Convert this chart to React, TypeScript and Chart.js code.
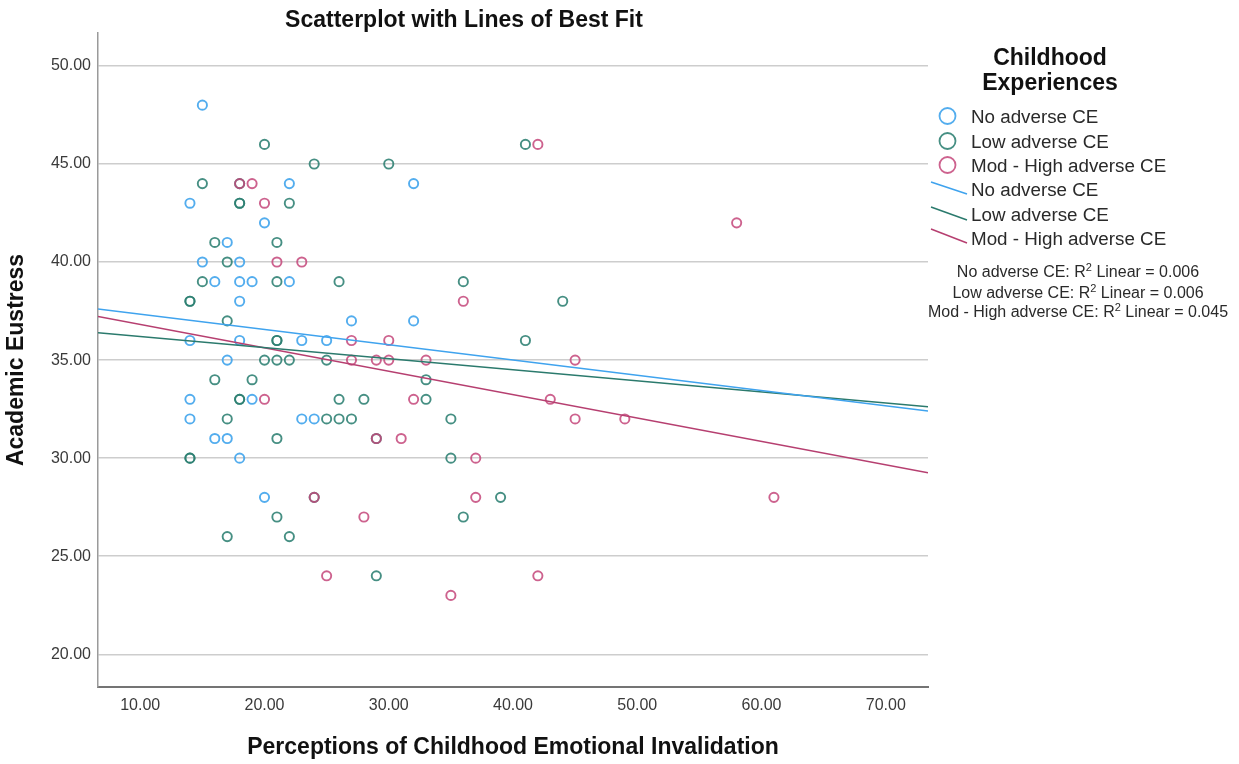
import React, { useEffect, useRef } from 'react';
import { Chart, registerables } from 'chart.js';

Chart.register(...registerables);

// ---------- data ----------
const seriesNames = ['No adverse CE', 'Low adverse CE', 'Mod - High adverse CE'];

const noAdverseX = [15, 14, 22, 32, 20, 17, 15, 18, 16, 18, 19, 22, 18, 27, 32, 14, 18, 23, 25, 17, 14, 19, 14, 23, 24, 16, 17, 18, 20];
const noAdverseY = [48, 43, 44, 44, 42, 41, 40, 40, 39, 39, 39, 39, 38, 37, 37, 36, 36, 36, 36, 35, 33, 33, 32, 32, 32, 31, 31, 30, 28];

const lowAdverseX = [20, 41, 24, 30, 15, 18, 18, 18, 22, 16, 21, 17, 15, 21, 26, 36, 14, 14, 44, 17, 21, 21, 41, 20, 21, 22, 25, 16, 19, 33, 18, 18, 26, 28, 33, 17, 25, 26, 27, 35, 21, 29, 14, 14, 35, 24, 39, 21, 36, 17, 22, 29];
const lowAdverseY = [46, 46, 45, 45, 44, 44, 43, 43, 43, 41, 41, 40, 39, 39, 39, 39, 38, 38, 38, 37, 36, 36, 36, 35, 35, 35, 35, 34, 34, 34, 33, 33, 33, 33, 33, 32, 32, 32, 32, 32, 31, 31, 30, 30, 30, 28, 28, 27, 27, 26, 26, 24];

const modHighX = [42, 18, 19, 20, 58, 21, 23, 36, 27, 30, 27, 29, 30, 33, 45, 20, 32, 43, 45, 49, 29, 31, 37, 24, 37, 61, 28, 25, 42, 35];
const modHighY = [46, 44, 44, 43, 42, 40, 40, 38, 36, 36, 35, 35, 35, 35, 35, 33, 33, 33, 32, 32, 31, 31, 30, 28, 28, 28, 27, 24, 24, 23];

// lines of best fit (end points)
const fitX = [6.6, 73.4];
const fitNoAdverseY = [37.6, 32.4];
const fitLowAdverseY = [36.4, 32.62];
const fitModHighY = [37.22, 29.26];

const r2Values = ['0.006', '0.006', '0.045'];

const xTicks = [10, 20, 30, 40, 50, 60, 70];
const yTicks = [20, 25, 30, 35, 40, 45, 50];
const xRange = [6.6, 73.4];
const yRange = [18.33, 51.68];

const chartTitle = 'Scatterplot with Lines of Best Fit';
const xTitle = 'Perceptions of Childhood Emotional Invalidation';
const yTitle = 'Academic Eustress';
const legendTitle = ['Childhood', 'Experiences'];

// ---------- styles ----------
const pointColors = ['rgba(64,164,236,0.9)', 'rgba(44,128,114,0.88)', 'rgba(196,70,122,0.85)'];
const lineColors = ['#3fa3ee', '#2b7a6d', '#b63f70'];
const FONT = '"Liberation Sans", Arial, sans-serif';

function pts(xs: number[], ys: number[]) {
  return xs.map((x, i) => ({ x, y: ys[i] }));
}

const overlayPlugin = {
  id: 'overlay',
  afterDraw(chart: any) {
    const ctx: CanvasRenderingContext2D = chart.ctx;
    const area = chart.chartArea;
    ctx.save();
    ctx.fillStyle = '#111';
    ctx.textAlign = 'center';
    ctx.textBaseline = 'middle';
    ctx.font = `bold 23px ${FONT}`;
    ctx.fillText(chartTitle, 464, 21);
    ctx.fillText(xTitle, (area.left + area.right) / 2, 748);
    ctx.save();
    ctx.translate(17, (area.top + area.bottom) / 2);
    ctx.rotate(-Math.PI / 2);
    ctx.fillText(yTitle, 0, 0);
    ctx.restore();

    // legend title
    ctx.textBaseline = 'alphabetic';
    ctx.fillText(legendTitle[0], 1050, 65);
    ctx.fillText(legendTitle[1], 1050, 90);

    // legend items
    ctx.textAlign = 'left';
    ctx.font = `18.8px ${FONT}`;
    ctx.fillStyle = '#2a2a2a';
    const circleRows = [116, 141, 165];
    const textRows = [123, 148, 172, 196, 221, 245];
    for (let i = 0; i < 3; i++) {
      ctx.beginPath();
      ctx.arc(947.5, circleRows[i], 8, 0, Math.PI * 2);
      ctx.strokeStyle = pointColors[i];
      ctx.lineWidth = 1.8;
      ctx.stroke();
      ctx.fillText(seriesNames[i], 971, textRows[i]);
    }
    const lineRows = [[182, 194], [207, 220], [229, 243]];
    for (let i = 0; i < 3; i++) {
      ctx.beginPath();
      ctx.moveTo(931, lineRows[i][0]);
      ctx.lineTo(967, lineRows[i][1]);
      ctx.strokeStyle = lineColors[i];
      ctx.lineWidth = 1.5;
      ctx.stroke();
      ctx.fillText(seriesNames[i], 971, textRows[i + 3]);
    }

    // R2 lines
    const r2Rows = [277, 298, 317];
    for (let i = 0; i < 3; i++) {
      const a = `${seriesNames[i]}: R`;
      const b = ` Linear = ${r2Values[i]}`;
      ctx.font = `16px ${FONT}`;
      const wa = ctx.measureText(a).width;
      const wb = ctx.measureText(b).width;
      ctx.font = `11px ${FONT}`;
      const ws = ctx.measureText('2').width;
      const total = wa + ws + wb;
      const x0 = 1078 - total / 2;
      ctx.font = `16px ${FONT}`;
      ctx.fillText(a, x0, r2Rows[i]);
      ctx.fillText(b, x0 + wa + ws, r2Rows[i]);
      ctx.font = `11px ${FONT}`;
      ctx.fillText('2', x0 + wa, r2Rows[i] - 6);
    }
    ctx.restore();
  },
};

export default function App() {
  const ref = useRef<HTMLCanvasElement | null>(null);

  useEffect(() => {
    if (!ref.current) return;
    const scatterDs = (i: number, xs: number[], ys: number[]) => ({
      type: 'scatter' as const,
      label: seriesNames[i],
      data: pts(xs, ys),
      pointStyle: 'circle',
      pointRadius: 4.6,
      pointBorderWidth: 1.9,
      pointBackgroundColor: 'rgba(0,0,0,0)',
      pointBorderColor: pointColors[i],
      borderColor: pointColors[i],
      backgroundColor: 'rgba(0,0,0,0)',
      showLine: false,
      order: 4 - i,
    });
    const lineDs = (i: number, ys: number[]) => ({
      type: 'line' as const,
      label: seriesNames[i] + ' fit',
      data: pts(fitX, ys),
      borderColor: lineColors[i],
      borderWidth: 1.5,
      pointRadius: 0,
      fill: false,
      order: 1,
    });
    const chart = new Chart(ref.current, {
      type: 'scatter',
      data: {
        datasets: [
          scatterDs(0, noAdverseX, noAdverseY),
          scatterDs(1, lowAdverseX, lowAdverseY),
          scatterDs(2, modHighX, modHighY),
          lineDs(0, fitNoAdverseY),
          lineDs(1, fitLowAdverseY),
          lineDs(2, fitModHighY),
        ] as any,
      },
      options: {
        animation: false,
        responsive: false,
        maintainAspectRatio: false,
        layout: { padding: { left: 0, right: 311, top: 33, bottom: 0 } },
        plugins: {
          legend: { display: false },
          title: { display: false },
          tooltip: { enabled: false },
        },
        scales: {
          x: {
            type: 'linear',
            min: xRange[0],
            max: xRange[1],
            afterBuildTicks: (axis: any) => {
              axis.ticks = xTicks.map((v) => ({ value: v }));
            },
            afterFit: (s: any) => {
              s.height = 77;
            },
            grid: { display: false, drawTicks: false },
            border: { display: true, color: '#747474', width: 2 },
            ticks: {
              padding: 9,
              color: '#3a3a3a',
              font: { family: FONT, size: 16 },
              callback: (v: any) => Number(v).toFixed(2),
              maxRotation: 0,
              autoSkip: false,
            },
          },
          y: {
            type: 'linear',
            min: yRange[0],
            max: yRange[1],
            afterBuildTicks: (axis: any) => {
              axis.ticks = yTicks.map((v) => ({ value: v }));
            },
            afterFit: (s: any) => {
              s.width = 98;
            },
            grid: { display: true, drawTicks: false, color: '#cdcdcd', lineWidth: 1.5 },
            border: { display: true, color: '#9a9a9a', width: 1.5 },
            ticks: {
              padding: 7,
              color: '#3a3a3a',
              font: { family: FONT, size: 16 },
              callback: (v: any) => Number(v).toFixed(2),
              autoSkip: false,
            },
          },
        },
      } as any,
      plugins: [overlayPlugin],
    });
    return () => chart.destroy();
  }, []);

  return (
    <div style={{ position: 'fixed', left: 0, top: 0, width: 1239, height: 764, background: '#fff' }}>
      <canvas ref={ref} width={1239} height={764} style={{ width: 1239, height: 764, display: 'block' }} />
    </div>
  );
}
